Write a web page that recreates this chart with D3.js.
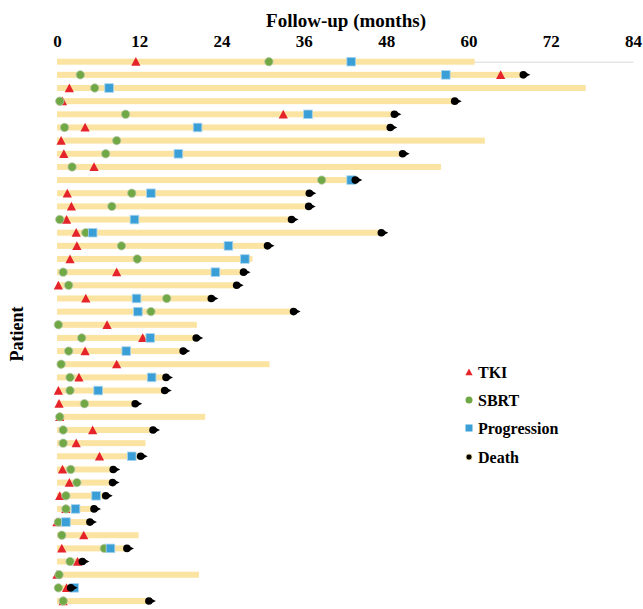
<!DOCTYPE html>
<meta charset="utf-8">
<style>
  body { margin: 0; background: #fff; }
  text { font-family: "Liberation Serif", "Times New Roman", serif; font-weight: bold; }
</style>
<body>
<script src="https://d3js.org/d3.v7.min.js"></script>
<script>

// follow-up per patient (months), top to bottom
var patients = d3.range(1, 43);
var followUp = [60.9, 68.0, 77.1, 58.0, 49.2, 48.6, 62.4, 50.4, 56.0, 43.5,
                36.8, 36.7, 34.2, 47.3, 30.7, 28.5, 27.2, 26.2, 22.5, 34.5,
                20.4, 20.3, 18.4, 31.0, 15.9, 15.7, 11.4, 21.6, 14.0, 12.9,
                12.2, 8.2, 8.1, 7.1, 5.4, 4.8, 11.9, 10.2, 3.7, 20.7,
                2.7, 13.4];
var tki = [11.5, 64.7, 1.8, 0.8, 33.0, 4.1, 0.6, 1.0, 5.4, null,
           1.5, 2.1, 1.4, 2.8, 2.9, 1.9, 8.7, 0.2, 4.2, null,
           7.3, 12.5, 4.1, 8.7, 3.2, 0.2, 0.3, 0.4, 5.2, 2.8,
           6.2, 0.8, 1.8, 0.4, 1.3, 0.0, 3.9, 0.7, 3.0, 0.0,
           1.4, 0.9];
var sbrt = [30.9, 3.4, 5.5, 0.4, 10.0, 1.1, 8.7, 7.1, 2.2, 38.6,
            10.9, 8.0, 0.4, 4.2, 9.4, 11.7, 0.9, 1.7, 16.0, 13.7,
            0.2, 3.6, 1.7, 0.6, 1.9, 1.9, 4.0, 0.4, 0.9, 0.9,
            null, 2.0, 2.9, 1.3, 1.3, 0.2, 0.7, 6.9, 1.9, 0.3,
            0.2, 0.9];
var progression = [42.9, 56.7, 7.6, null, 36.6, 20.5, null, 17.7, null, 42.9,
                   13.7, null, 11.3, 5.2, 25.0, 27.4, 23.1, null, 11.6, 11.8,
                   null, 13.6, 10.1, null, 13.8, 6.0, null, null, null, null,
                   10.9, null, null, 5.7, 2.7, 1.3, null, 7.8, null, null,
                   2.5, null];
var death = [null, 68.0, null, 58.0, 49.2, 48.6, null, 50.4, null, 43.5,
             36.8, 36.7, 34.2, 47.3, 30.7, null, 27.2, 26.2, 22.5, 34.5,
             null, 20.3, 18.4, null, 15.9, 15.7, 11.4, null, 14.0, null,
             12.2, 8.2, 8.1, 7.1, 5.4, 4.8, null, 10.2, 3.7, null,
             2.0, 13.4];
var xTicks = [0, 12, 24, 36, 48, 60, 72, 84];

var colors = {tki: "#e5232a", sbrt: "#6fa845", prog: "#3a9fd6", death: "#000", bar: "#fbe3a1"};

var width = 643, height = 609;

var svg = d3.select("body").append("svg")
    .attr("width", width)
    .attr("height", height);

var x = d3.scaleLinear().domain([0, 84]).range([57, 633]);
var y = d3.scalePoint().domain(patients).range([61.7, 601]);

var rows = patients.map(function(p, i) {
  return {id: p, end: followUp[i], tki: tki[i], sbrt: sbrt[i], prog: progression[i], death: death[i]};
});

// axis on top, line sits on the first row
var axis = svg.append("g")
    .attr("transform", "translate(0," + y(1) + ")")
    .call(d3.axisTop(x).tickValues(xTicks).tickSize(0).tickPadding(14.5));
axis.select(".domain").attr("stroke", "#d9d9d9");
axis.selectAll("text")
    .style("font-size", "17px")
    .attr("fill", "#000");

svg.append("text")
    .attr("x", 346)
    .attr("y", 27)
    .attr("text-anchor", "middle")
    .style("font-size", "19px")
    .text("Follow-up (months)");

svg.append("text")
    .attr("transform", "translate(23,334) rotate(-90)")
    .attr("text-anchor", "middle")
    .style("font-size", "18px")
    .text("Patient");

// bars
svg.selectAll("rect.bar")
    .data(rows)
  .enter().append("rect")
    .attr("class", "bar")
    .attr("x", x(0))
    .attr("y", function(d) { return y(d.id) - 3; })
    .attr("width", function(d) { return x(d.end) - x(0); })
    .attr("height", 6)
    .attr("fill", colors.bar);

function triangle(cx, cy, s) {
  return "M" + (cx - s) + "," + (cy + s * 0.9) + "L" + (cx + s) + "," + (cy + s * 0.9) +
         "L" + cx + "," + (cy - s) + "Z";
}

// TKI
svg.selectAll("path.tki")
    .data(rows.filter(function(d) { return d.tki != null; }))
  .enter().append("path")
    .attr("class", "tki")
    .attr("d", function(d) { return triangle(x(d.tki), y(d.id), 4.6); })
    .attr("fill", colors.tki);

// SBRT
svg.selectAll("circle.sbrt")
    .data(rows.filter(function(d) { return d.sbrt != null; }))
  .enter().append("circle")
    .attr("class", "sbrt")
    .attr("cx", function(d) { return x(d.sbrt); })
    .attr("cy", function(d) { return y(d.id); })
    .attr("r", 4.2)
    .attr("fill", colors.sbrt)
    .attr("stroke", "#b9c9ad")
    .attr("stroke-width", 0.8);

// Progression
svg.selectAll("rect.prog")
    .data(rows.filter(function(d) { return d.prog != null; }))
  .enter().append("rect")
    .attr("class", "prog")
    .attr("x", function(d) { return x(d.prog) - 4.3; })
    .attr("y", function(d) { return y(d.id) - 4.3; })
    .attr("width", 8.6)
    .attr("height", 8.6)
    .attr("fill", colors.prog)
    .attr("stroke", "#a9d4ee")
    .attr("stroke-width", 0.8);

// Death: dot with a small arrow tip
var deaths = rows.filter(function(d) { return d.death != null; });
svg.selectAll("path.arrow")
    .data(deaths)
  .enter().append("path")
    .attr("class", "arrow")
    .attr("d", function(d) {
      var cx = x(d.death), cy = y(d.id);
      return "M" + (cx + 2) + "," + (cy - 2.5) + "L" + (cx + 7) + "," + cy + "L" + (cx + 2) + "," + (cy + 2.5) + "Z";
    })
    .attr("fill", colors.death);
svg.selectAll("circle.death")
    .data(deaths)
  .enter().append("circle")
    .attr("class", "death")
    .attr("cx", function(d) { return x(d.death); })
    .attr("cy", function(d) { return y(d.id); })
    .attr("r", 3.8)
    .attr("fill", colors.death);

// legend
var legend = [
  {label: "TKI", type: "tki", y: 372},
  {label: "SBRT", type: "sbrt", y: 400},
  {label: "Progression", type: "prog", y: 428},
  {label: "Death", type: "death", y: 457}
];
var lg = svg.append("g");
legend.forEach(function(l) {
  var mx = 469;
  if (l.type == "tki") {
    lg.append("path").attr("d", triangle(mx, l.y, 3.6)).attr("fill", colors.tki);
  } else if (l.type == "sbrt") {
    lg.append("circle").attr("cx", mx).attr("cy", l.y).attr("r", 3.5).attr("fill", colors.sbrt);
  } else if (l.type == "prog") {
    lg.append("rect").attr("x", mx - 3.5).attr("y", l.y - 3.5).attr("width", 7).attr("height", 7).attr("fill", colors.prog);
  } else {
    lg.append("circle").attr("cx", mx).attr("cy", l.y).attr("r", 3)
      .attr("fill", "#000").attr("stroke", "#e8d48a").attr("stroke-width", 0.8);
  }
  lg.append("text")
    .attr("x", 478)
    .attr("y", l.y + 5.5)
    .style("font-size", "16px")
    .text(l.label);
});

</script>
</body>
